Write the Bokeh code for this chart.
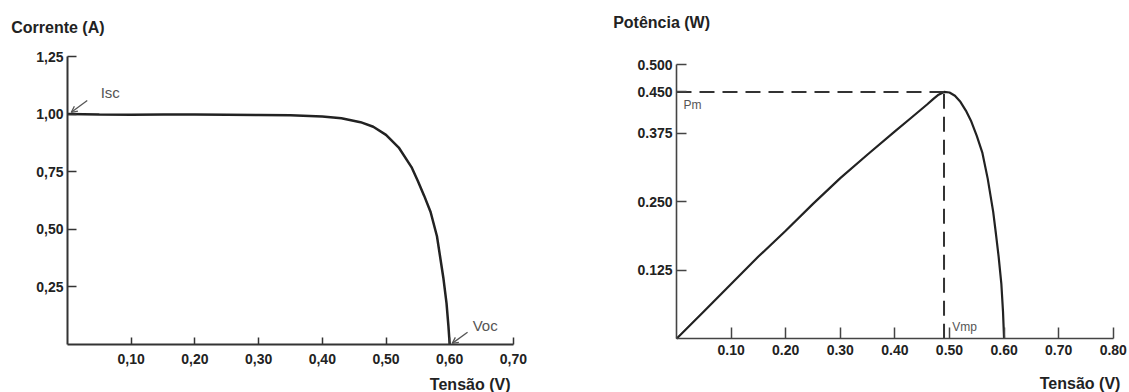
from bokeh.plotting import figure
from bokeh.layouts import row
from bokeh.models import Range1d, FixedTicker, Label, Arrow, OpenHead
from bokeh.embed import file_html
from bokeh.resources import INLINE

# ---------------- data ----------------
# I-V curve (left)
iv_voltage = [0.00, 0.05, 0.10, 0.15, 0.20, 0.25, 0.30, 0.35, 0.40, 0.43, 0.46,
              0.48, 0.50, 0.52, 0.54, 0.55, 0.56, 0.57, 0.58, 0.59, 0.595, 0.598, 0.60]
iv_current = [1.000, 0.998, 0.997, 0.998, 0.998, 0.997, 0.996, 0.995, 0.990, 0.982, 0.965,
              0.945, 0.910, 0.855, 0.770, 0.710, 0.645, 0.575, 0.470, 0.290, 0.180, 0.080, 0.000]
iv_xticks = [0.10, 0.20, 0.30, 0.40, 0.50, 0.60, 0.70]
iv_xlabels = ["0,10", "0,20", "0,30", "0,40", "0,50", "0,60", "0,70"]
iv_yticks = [0.25, 0.50, 0.75, 1.00, 1.25]
iv_ylabels = ["0,25", "0,50", "0,75", "1,00", "1,25"]

# P-V curve (right)
pv_voltage = [0.00, 0.05, 0.10, 0.15, 0.20, 0.25, 0.30, 0.35, 0.40, 0.43, 0.46, 0.47,
              0.48, 0.49, 0.50, 0.51, 0.52, 0.53, 0.54, 0.55, 0.56, 0.57, 0.58, 0.585,
              0.59, 0.595, 0.598, 0.60]
pv_power = [0.000, 0.050, 0.100, 0.150, 0.197, 0.246, 0.293, 0.336, 0.378, 0.403, 0.428, 0.437,
            0.445, 0.450, 0.449, 0.443, 0.432, 0.416, 0.396, 0.370, 0.340, 0.292, 0.232, 0.192,
            0.150, 0.100, 0.050, 0.000]
pv_xticks = [0.10, 0.20, 0.30, 0.40, 0.50, 0.60, 0.70, 0.80]
pv_xlabels = ["0.10", "0.20", "0.30", "0.40", "0.50", "0.60", "0.70", "0.80"]
pv_yticks = [0.125, 0.250, 0.375, 0.450, 0.500]
pv_ylabels = ["0.125", "0.250", "0.375", "0.450", "0.500"]

v_mp = 0.49
p_m = 0.45

FONT = "Liberation Sans"
INK = "#222222"
NOTE = "#555555"


def style_axes(p, xt, xl, yt, yl, tick_in_x, tick_in_y, axis_w, axis_c, x_standoff, y_standoff):
    p.xgrid.visible = False
    p.ygrid.visible = False
    p.outline_line_color = None
    for ax, ticks, labels, tin, so in ((p.xaxis[0], xt, xl, tick_in_x, x_standoff),
                                       (p.yaxis[0], yt, yl, tick_in_y, y_standoff)):
        ax.ticker = FixedTicker(ticks=ticks)
        ax.major_label_overrides = {t: s for t, s in zip(ticks, labels)}
        ax.bounds = (0, ticks[-1])
        ax.fixed_location = 0
        ax.major_tick_in = tin
        ax.major_tick_out = 0
        ax.minor_tick_line_color = None
        ax.axis_line_color = axis_c
        ax.axis_line_width = axis_w
        ax.major_tick_line_color = axis_c
        ax.major_tick_line_width = 1.5
        ax.major_label_text_font = FONT
        ax.major_label_text_font_style = "bold"
        ax.major_label_text_font_size = "14px"
        ax.major_label_text_color = INK
        ax.major_label_standoff = so


def text(p, x, y, s, size, color=INK, bold=False, align="left"):
    p.add_layout(Label(x=x, y=y, text=s, text_font=FONT, text_font_size=size,
                       text_font_style="bold" if bold else "normal", text_color=color,
                       text_baseline="middle", text_align=align))


# ---------------- left: I-V ----------------
p1 = figure(width=568, height=392, output_backend="svg", toolbar_location=None,
            x_range=Range1d(-0.1052, 0.7865), y_range=Range1d(-0.2083, 1.4931),
            min_border=0)
style_axes(p1, iv_xticks, iv_xlabels, iv_yticks, iv_ylabels, 7, 9, 2, "#333333", 9, 4)
p1.line(iv_voltage, iv_current, line_color=INK, line_width=2.5)

isc_v, isc = iv_voltage[0], iv_current[0]
voc = iv_voltage[-1]
p1.add_layout(Arrow(end=OpenHead(size=6, line_color=NOTE, line_width=1.3),
                    x_start=isc_v + 0.031, y_start=isc + 0.059,
                    x_end=isc_v + 0.006, y_end=isc + 0.008,
                    line_color=NOTE, line_width=1.3))
text(p1, isc_v + 0.052, isc + 0.094, "Isc", "15px", NOTE)
p1.add_layout(Arrow(end=OpenHead(size=6, line_color=NOTE, line_width=1.3),
                    x_start=voc + 0.028, y_start=0.053,
                    x_end=voc + 0.004, y_end=0.005,
                    line_color=NOTE, line_width=1.3))
text(p1, voc + 0.036, 0.082, "Voc", "15px", NOTE)
text(p1, -0.0884, 1.377, "Corrente (A)", "16px", bold=True)
text(p1, 0.6954, -0.1736, "Tensão (V)", "16px", bold=True, align="right")

# ---------------- right: P-V ----------------
p2 = figure(width=561, height=392, output_backend="svg", toolbar_location=None,
            x_range=Range1d(-0.1978, 0.8297), y_range=Range1d(-0.0978, 0.6167),
            min_border=0)
style_axes(p2, pv_xticks, pv_xlabels, pv_yticks, pv_ylabels, 11, 10, 1.6, "#444444", 6, 4)
p2.line(pv_voltage, pv_power, line_color=INK, line_width=2.2)
p2.line([0, v_mp], [p_m, p_m], line_color="#333333", line_width=2, line_dash="15 8")
p2.line([v_mp, v_mp], [0, p_m], line_color="#333333", line_width=2, line_dash="15 8")
text(p2, 0.013, p_m - 0.024, "Pm", "12px", NOTE)
text(p2, v_mp + 0.015, 0.021, "Vmp", "12px", NOTE)
text(p2, -0.116, 0.5757, "Potência (W)", "16px", bold=True)
text(p2, 0.813, -0.0815, "Tensão (V)", "16px", bold=True, align="right")

layout = row(p1, p2)
open("out.html", "w").write(file_html(layout, INLINE))
